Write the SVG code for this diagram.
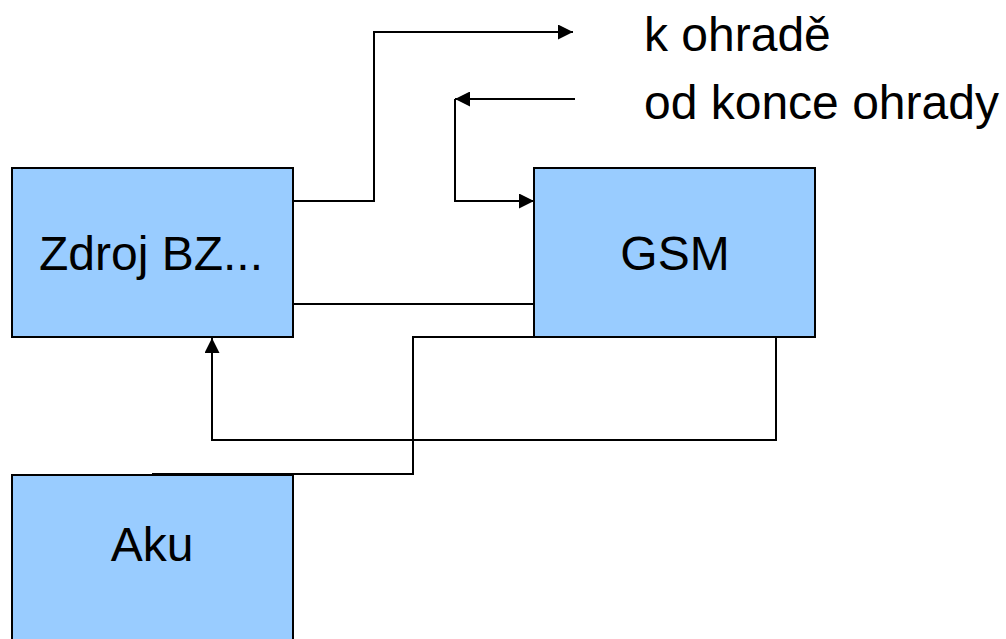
<svg xmlns="http://www.w3.org/2000/svg" width="1006" height="639" viewBox="0 0 1006 639">
<style>
.box{fill:#99CCFF;stroke:#000;stroke-width:2}
.lbl{font-family:"Liberation Sans",Arial,sans-serif;font-size:48px;fill:#000}
.c{fill:none;stroke:#000;stroke-width:2}
</style>
<defs>
<marker id="ah" viewBox="0 0 10 10" refX="10" refY="5" markerWidth="15" markerHeight="15" markerUnits="userSpaceOnUse" orient="auto">
<path d="M0,0 L10,5 L0,10 z" fill="#000"/>
</marker>
</defs>
<rect width="1006" height="639" fill="#fff"/>
<g id="connectors">
<polyline class="c" points="293,201 374,201 374,32 573,32" marker-end="url(#ah)"/>
<polyline class="c" points="575,99 455,99" marker-end="url(#ah)"/>
<polyline class="c" points="455,99 455,201 534,201" marker-end="url(#ah)"/>
<polyline class="c" points="293,304 534,304" stroke-width="1.5"/>
<polyline class="c" points="776,337 776,440 212,440 212,338" marker-end="url(#ah)"/>
<polyline class="c" points="152,474 413,474 413,337 534,337"/>
</g>
<g id="zdroj">
<rect class="box" x="12" y="168" width="281" height="169"/>
<text class="lbl" x="151" y="270" text-anchor="middle">Zdroj BZ...</text>
</g>
<g id="gsm">
<rect class="box" x="534" y="168" width="281" height="169"/>
<text class="lbl" x="675" y="270" text-anchor="middle">GSM</text>
</g>
<g id="aku">
<rect class="box" x="12" y="475" width="281" height="180"/>
<text class="lbl" x="152" y="561" text-anchor="middle">Aku</text>
</g>
<g id="labels">
<text class="lbl" x="644" y="51">k ohradě</text>
<text class="lbl" x="644" y="119">od konce ohrady</text>
</g>
</svg>
